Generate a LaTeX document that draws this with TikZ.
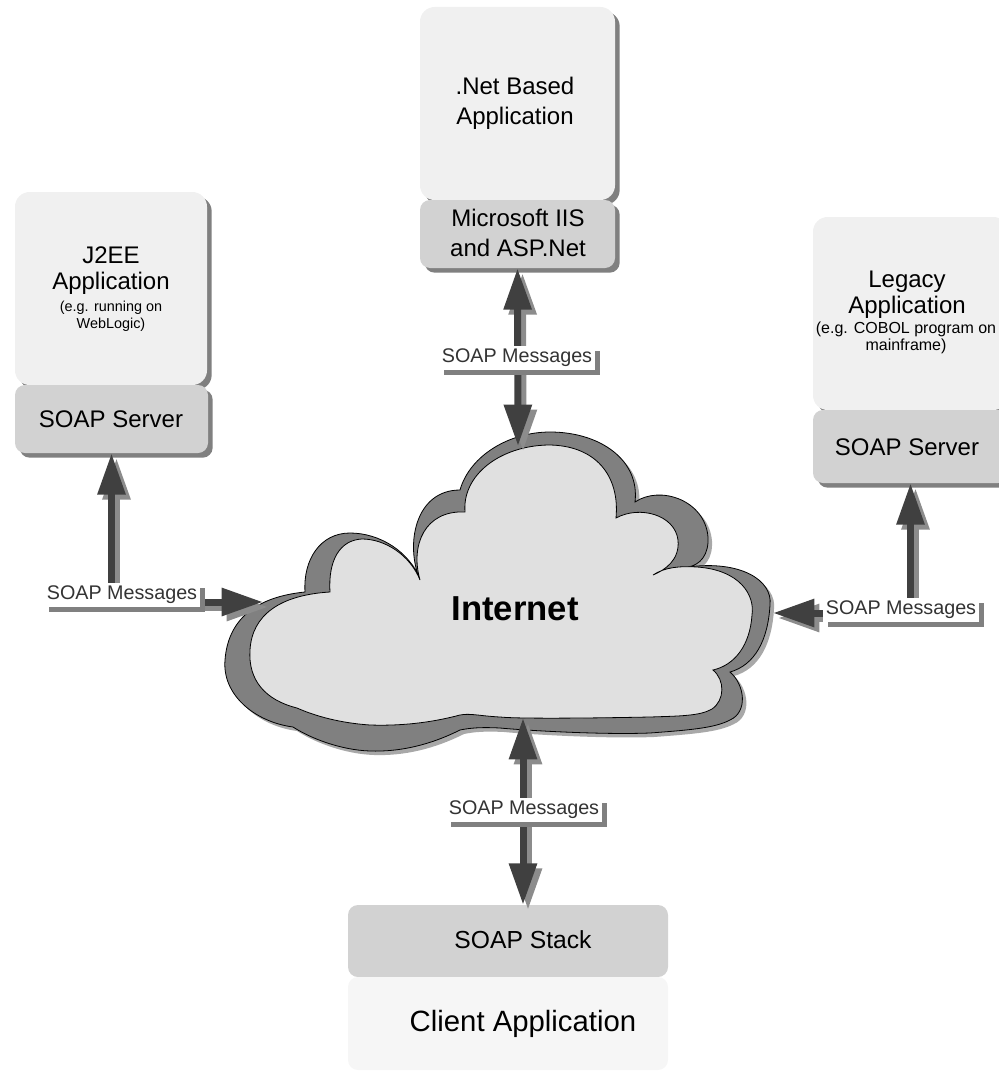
\documentclass[tikz,border=0pt]{standalone}
\usepackage{fontspec}
\setmainfont{Liberation Sans}
\usetikzlibrary{arrows.meta,shadows}

\definecolor{appfill}{HTML}{F0F0F0}
\definecolor{srvfill}{HTML}{D2D2D2}
\definecolor{clientfill}{HTML}{F6F6F6}
\definecolor{cloudlight}{HTML}{E0E0E0}
\definecolor{clouddark}{HTML}{808080}
\definecolor{cloudshade}{HTML}{A8A8A8}
\definecolor{arrowdark}{HTML}{404040}
\definecolor{arrowshade}{HTML}{8C8C8C}

\newcommand{\fsz}[2]{\fontsize{#1}{#2}\selectfont}

% inner (light) and outer (dark) outline of the cloud, in pixel units
\newcommand{\cloudinnerpath}{(297,708)
  .. controls (265,700) and (248,680) .. (250,650)
  .. controls (252,615) and (280,595) .. (330,592)
  .. controls (328,560) and (340,540) .. (362,539)
  .. controls (385,539) and (410,555) .. (420,580)
  .. controls (410,545) and (425,510) .. (465,512)
  .. controls (462,475) and (500,446) .. (548,445)
  .. controls (595,445) and (620,475) .. (616,518)
  .. controls (640,505) and (675,515) .. (678,540)
  .. controls (680,560) and (665,570) .. (653,575)
  .. controls (665,567) and (680,566) .. (697,567)
  .. controls (740,570) and (755,595) .. (752,615)
  .. controls (750,645) and (735,665) .. (713,670)
  .. controls (725,680) and (725,700) .. (712,709)
  .. controls (700,716) and (680,716) .. (650,717)
  .. controls (600,718) and (520,719) .. (500,717)
  .. controls (480,716) and (470,713) .. (460,715)
  .. controls (430,723) and (400,726) .. (370,725)
  .. controls (340,723) and (315,716) .. (297,708) -- cycle}
\newcommand{\cloudouterpath}{(293,727)
  .. controls (255,722) and (222,695) .. (225,660)
  .. controls (228,620) and (255,597) .. (305,592)
  .. controls (303,560) and (320,533) .. (350,533)
  .. controls (380,533) and (410,552) .. (420,580)
  .. controls (405,545) and (415,490) .. (460,490)
  .. controls (470,455) and (510,432) .. (550,432)
  .. controls (600,432) and (640,460) .. (635,502)
  .. controls (660,485) and (705,500) .. (708,537)
  .. controls (709,555) and (700,565) .. (688,567)
  .. controls (740,560) and (773,580) .. (770,605)
  .. controls (768,640) and (755,665) .. (730,672)
  .. controls (745,685) and (748,712) .. (730,720)
  .. controls (715,728) and (690,730) .. (650,733)
  .. controls (600,735) and (520,730) .. (500,728)
  .. controls (480,727) and (470,728) .. (460,730)
  .. controls (430,745) and (400,752) .. (370,751)
  .. controls (340,750) and (310,738) .. (293,727) -- cycle}

\tikzset{
  boxshade/.style={drop shadow={shadow xshift=3.5pt,shadow yshift=-3.5pt,fill=black!50,opacity=1}},
  appbox/.style={rectangle,rounded corners=11pt,fill=appfill,boxshade},
  srvbox/.style={rectangle,rounded corners=7.5pt,fill=srvfill,boxshade},
  bigtext/.style={align=center,font=\fsz{18}{19.5}},
  notetext/.style={align=center,font=\fsz{10.8}{12.75}},
  msgline/.style={line width=5.25pt,draw=arrowdark,
    {Triangle[length=31pt,width=20pt]}-{Triangle[length=31pt,width=20pt]}},
  msgshade/.style={msgline,draw=arrowshade},
  msglabel/.style={fill=white,text=black!80,font=\fsz{14.8}{17},inner xsep=2pt,inner ysep=2pt,
    drop shadow={shadow xshift=3.75pt,shadow yshift=-3.75pt,fill=black!50,opacity=1}},
}

\begin{document}
\begin{tikzpicture}[x=0.75pt,y=-0.75pt]
\useasboundingbox (0,0) rectangle (999,1074);

% the Internet cloud
\fill[cloudshade,shift={(4,4)}] \cloudouterpath;
\filldraw[fill=clouddark,draw=black,line width=0.6pt] \cloudouterpath;
\filldraw[fill=cloudlight,draw=black,line width=0.6pt] \cloudinnerpath;
\node[font=\bfseries\fsz{26}{28}] (internet) at (515,609) {Internet};
\coordinate (netN) at (518,446);
\coordinate (netW) at (263,602);
\coordinate (netE) at (773,613);
\coordinate (netS) at (523,718);

% J2EE application
\node[appbox,minimum width=144pt,minimum height=144.75pt] (j2ee) at (111,288.5) {};
\node[srvbox,minimum width=144.75pt,minimum height=51pt] (j2eesrv) at (111.5,419) {};
\node[bigtext] (j2eetitle) at (111,271) {J2EE\\Application};
\node[notetext] (j2eenote) at (111,316.5) {(e.g. running on\\WebLogic)};
\node[font=\fsz{18}{20}] (j2eesrvtext) at (111,419) {SOAP Server};

% .Net application
\node[appbox,minimum width=146.25pt,minimum height=144.75pt] (netapp) at (517.5,103.5) {};
\node[srvbox,minimum width=146.25pt,minimum height=51pt] (netsrv) at (517.5,234) {};
\node[align=center,font=\fsz{18}{22.5}] (nettitle) at (515,103) {.Net Based\\Application};
\node[align=center,font=\fsz{18}{22.5}] (netsrvtext) at (518,233) {Microsoft IIS\\and ASP.Net};

% legacy application
\node[appbox,minimum width=146.25pt,minimum height=144.75pt] (legacy) at (910.5,313.5) {};
\node[srvbox,minimum width=146.25pt,minimum height=54.75pt] (legsrv) at (910.5,446.5) {};
\node[bigtext] (legtitle) at (907,295) {Legacy\\Application};
\node[align=center,font=\fsz{12}{12.75}] (legnote) at (906,337.5) {(e.g. COBOL program on\\mainframe)};
\node[font=\fsz{18}{20}] (legsrvtext) at (907,447) {SOAP Server};

% client application
\node[rectangle,rounded corners=7.5pt,fill=srvfill,minimum width=240pt,minimum height=54pt] (stack) at (508,941) {};
\node[rectangle,rounded corners=7.5pt,fill=clientfill,minimum width=240pt,minimum height=69.75pt] (client) at (508,1023.5) {};
\node[font=\fsz{18.5}{20}] (stacktext) at (523,940) {SOAP Stack};
\node[font=\fsz{22}{24}] (clienttext) at (523,1024) {Client Application};

% SOAP message connectors
\begin{scope}[transform canvas={xshift=3.75pt,yshift=-3.75pt}]
  \draw[msgshade] (j2eesrv.south) |- (netW);
  \draw[msgshade] (netsrv.south) -- (netN);
  \draw[msgshade] (legsrv.south) |- (netE);
  \draw[msgshade] (netS) -- (netS |- stack.north);
\end{scope}
\draw[msgline] (j2eesrv.south) |- (netW);
\draw[msgline] (netsrv.south) -- (netN);
\draw[msgline] (legsrv.south) |- (netE);
\draw[msgline] (netS) -- (netS |- stack.north);

\node[msglabel] (msgj2ee) at (122,595) {SOAP Messages};
\node[msglabel] (msgnet) at (517,358) {SOAP Messages};
\node[msglabel] (msgleg) at (901,610) {SOAP Messages};
\node[msglabel] (msgclient) at (524,810) {SOAP Messages};
\end{tikzpicture}
\end{document}
